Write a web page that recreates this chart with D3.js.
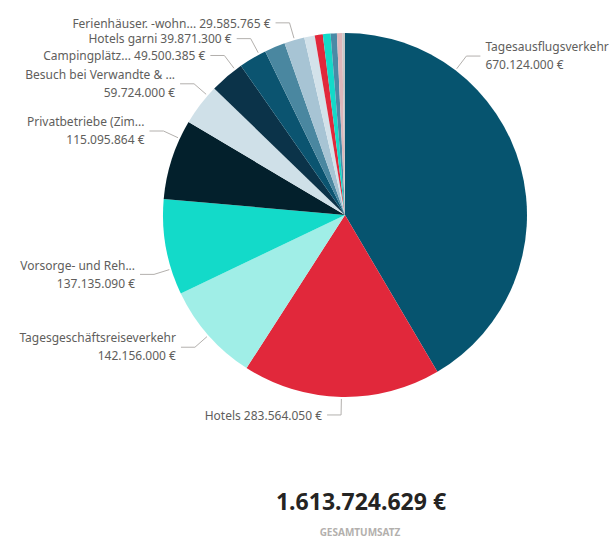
<!DOCTYPE html>
<html>
<head>
<meta charset="utf-8">
<script src="https://cdn.jsdelivr.net/npm/d3@7"></script>
<style>
  body { margin: 0; background: #fff; font-family: "Segoe UI", "Noto Sans", sans-serif; }
  .lbl { font-size: 12px; fill: #605e5c; }
  .leader { fill: none; stroke: #b3b0ad; stroke-width: 1; }
  .total { font-size: 23px; font-weight: 700; fill: #252423; }
  .total-cap { font-size: 10px; font-weight: 700; fill: #b3b0ad; }
</style>
</head>
<body>
<div id="chart"></div>
<script>
let totalWidth = 612
let totalHeight = 542

// slices, clockwise from 12 o'clock
const categories = [
    "Tagesausflugsverkehr",
    "Hotels",
    "Tagesgeschäftsreiseverkehr",
    "Vorsorge- und Reh...",
    "Privatbetriebe (Zim...",
    "Besuch bei Verwandte & ...",
    "Campingplätz...",
    "Hotels garni",
    "Ferienhäuser. -wohn...",
    "Gasthöfe",
    "Pensionen",
    "Jugendherbergen",
    "Gruppenunterkünfte",
    "Sonstige",
    "Kurheime",
    "Übrige"
];
const values = [
    670124000, 283564050, 142156000, 137135090, 115095864,
    59724000, 49500385, 39871300, 29585765,
    29000000, 15000000, 11500000, 11000000, 9000000, 7500000, 3968175
];
const colors = [
    "#06546f", "#e1283b", "#a0eee7", "#13dac9", "#03202c",
    "#cfe0e8", "#0b3349", "#0b5470", "#4a87a0",
    "#a7c4d4", "#d3e2ea", "#e1283b", "#13dac9", "#4a8aa6", "#ddb6ba", "#c8c8c8"
];

// labels only for the first slices; where along the slice the leader starts (0..1)
const labelCount = 9;
const anchorAt = [0.25, 0.5, 0.5, 0.27, 0.77, 0.77, 0.8, 0.76, 1.5];
const twoLine = [true, false, true, true, true, true, false, false, false];

const totalCaption = "GESAMTUMSATZ";

let cx = 345, cy = 215, radius = 182;

const de = d3.formatLocale({decimal: ",", thousands: ".", grouping: [3], currency: ["", " €"]});
const fmt = v => de.format(",.0f")(v) + " €";

let svg = d3.select("#chart").append("svg")
    .attr("width", totalWidth)
    .attr("height", totalHeight);

let data = categories.map((c, i) => ({name: c, value: values[i], color: colors[i], i: i}));

let pie = d3.pie().sort(null).value(d => d.value);
let arcs = pie(data);

let arc = d3.arc().innerRadius(0).outerRadius(radius);

let g = svg.append("g").attr("transform", `translate(${cx},${cy})`);

g.selectAll("path.slice")
    .data(arcs)
    .enter()
    .append("path")
    .attr("class", "slice")
    .attr("d", arc)
    .attr("fill", d => d.data.color);

// point on a circle of radius r at angle a (0 = top, clockwise)
function polar(a, r) {
    return [Math.sin(a) * r, -Math.cos(a) * r];
}

let labels = arcs.slice(0, labelCount).map((d, i) => {
    let a = d.startAngle + (d.endAngle - d.startAngle) * anchorAt[i];
    let p0 = polar(a, radius + 2);
    let p1 = polar(a, radius + 18);
    let right = a < Math.PI;
    let p2 = [p1[0] + (right ? 14 : -14), p1[1]];
    return {d: d, i: i, p0: p0, p1: p1, p2: p2, right: right};
});

g.selectAll("path.leader")
    .data(labels)
    .enter()
    .append("path")
    .attr("class", "leader")
    .attr("d", l => d3.line()([l.p0, l.p1, l.p2]));

let txt = g.selectAll("text.lbl")
    .data(labels)
    .enter()
    .append("text")
    .attr("class", "lbl")
    .attr("text-anchor", l => l.right ? "start" : "end")
    .attr("x", l => l.p2[0] + (l.right ? 5 : -5))
    .attr("y", l => l.p2[1]);

txt.each(function(l) {
    let t = d3.select(this);
    let x = l.p2[0] + (l.right ? 5 : -5);
    if (twoLine[l.i]) {
        t.append("tspan").attr("x", x).attr("dy", "-0.4em").text(l.d.data.name);
        t.append("tspan").attr("x", x).attr("dy", "1.5em").text(fmt(l.d.data.value));
    } else {
        t.append("tspan").attr("x", x).attr("dy", "0.4em")
            .text(l.d.data.name + " " + fmt(l.d.data.value));
    }
});

// card with the total
svg.append("text")
    .attr("class", "total")
    .attr("x", 361)
    .attr("y", 510)
    .attr("text-anchor", "middle")
    .text(fmt(d3.sum(values)));

svg.append("text")
    .attr("class", "total-cap")
    .attr("x", 360)
    .attr("y", 536)
    .attr("text-anchor", "middle")
    .text(totalCaption);
</script>
</body>
</html>
